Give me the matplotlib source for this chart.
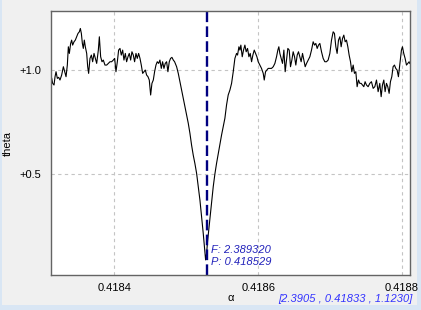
import matplotlib
matplotlib.use("Agg")
import matplotlib.pyplot as plt
from matplotlib.patches import Rectangle

plt.rcParams['font.family'] = ['Liberation Sans', 'DejaVu Sans']

# periodogram trace (period, theta)
period = [
    0.4183130, 0.4183143, 0.4183162, 0.4183176, 0.4183190, 0.4183208, 0.4183227, 0.4183245,
    0.4183268, 0.4183292, 0.4183310, 0.4183329, 0.4183347, 0.4183361, 0.4183375, 0.4183393,
    0.4183407, 0.4183421, 0.4183440, 0.4183458, 0.4183477, 0.4183495, 0.4183514, 0.4183528,
    0.4183542, 0.4183556, 0.4183569, 0.4183583, 0.4183597, 0.4183616, 0.4183630, 0.4183643,
    0.4183662, 0.4183681, 0.4183699, 0.4183718, 0.4183736, 0.4183755, 0.4183778, 0.4183792,
    0.4183810, 0.4183829, 0.4183847, 0.4183870, 0.4183894, 0.4183917, 0.4183940, 0.4183963,
    0.4183986, 0.4184005, 0.4184023, 0.4184042, 0.4184060, 0.4184079, 0.4184097, 0.4184116,
    0.4184134, 0.4184153, 0.4184171, 0.4184190, 0.4184208, 0.4184227, 0.4184245, 0.4184264,
    0.4184282, 0.4184301, 0.4184319, 0.4184338, 0.4184357, 0.4184375, 0.4184394, 0.4184412,
    0.4184431, 0.4184449, 0.4184468, 0.4184486, 0.4184505, 0.4184523, 0.4184542, 0.4184560,
    0.4184579, 0.4184597, 0.4184616, 0.4184634, 0.4184653, 0.4184671, 0.4184690, 0.4184708,
    0.4184727, 0.4184745, 0.4184764, 0.4184782, 0.4184801, 0.4184820, 0.4184838, 0.4184866,
    0.4184889, 0.4184912, 0.4184935, 0.4184958, 0.4184982, 0.4185005, 0.4185028, 0.4185051,
    0.4185074, 0.4185097, 0.4185120, 0.4185144, 0.4185167, 0.4185190, 0.4185213, 0.4185236,
    0.4185255, 0.4185269, 0.4185283, 0.4185296, 0.4185315, 0.4185333, 0.4185352, 0.4185375,
    0.4185398, 0.4185421, 0.4185445, 0.4185468, 0.4185491, 0.4185514, 0.4185537, 0.4185560,
    0.4185583, 0.4185607, 0.4185630, 0.4185653, 0.4185676, 0.4185699, 0.4185713, 0.4185732,
    0.4185746, 0.4185759, 0.4185778, 0.4185796, 0.4185815, 0.4185833, 0.4185852, 0.4185871,
    0.4185889, 0.4185908, 0.4185926, 0.4185945, 0.4185963, 0.4185982, 0.4186000, 0.4186023,
    0.4186046, 0.4186070, 0.4186084, 0.4186102, 0.4186121, 0.4186139, 0.4186162, 0.4186185,
    0.4186209, 0.4186232, 0.4186255, 0.4186273, 0.4186287, 0.4186301, 0.4186320, 0.4186338,
    0.4186357, 0.4186375, 0.4186394, 0.4186412, 0.4186431, 0.4186449, 0.4186468, 0.4186486,
    0.4186505, 0.4186523, 0.4186542, 0.4186560, 0.4186579, 0.4186597, 0.4186616, 0.4186634,
    0.4186653, 0.4186672, 0.4186695, 0.4186718, 0.4186741, 0.4186764, 0.4186783, 0.4186801,
    0.4186820, 0.4186838, 0.4186857, 0.4186880, 0.4186903, 0.4186926, 0.4186949, 0.4186972,
    0.4186996, 0.4187019, 0.4187042, 0.4187060, 0.4187079, 0.4187097, 0.4187116, 0.4187135,
    0.4187153, 0.4187172, 0.4187190, 0.4187209, 0.4187227, 0.4187246, 0.4187264, 0.4187283,
    0.4187301, 0.4187320, 0.4187338, 0.4187357, 0.4187375, 0.4187394, 0.4187412, 0.4187431,
    0.4187449, 0.4187468, 0.4187486, 0.4187505, 0.4187528, 0.4187551, 0.4187574, 0.4187598,
    0.4187621, 0.4187644, 0.4187667, 0.4187690, 0.4187709, 0.4187727, 0.4187746, 0.4187764,
    0.4187783, 0.4187801, 0.4187820, 0.4187838, 0.4187857, 0.4187875, 0.4187894, 0.4187912,
    0.4187931, 0.4187949, 0.4187968, 0.4187991, 0.4188005, 0.4188023, 0.4188042, 0.4188061,
    0.4188079, 0.4188098, 0.4188107,
]
theta = [
    0.960, 0.936, 0.928, 0.968, 0.992, 0.960, 0.965, 0.952,
    0.976, 1.016, 0.992, 0.968, 1.024, 1.112, 1.080, 1.128,
    1.144, 1.120, 1.136, 1.144, 1.160, 1.176, 1.184, 1.200,
    1.176, 1.128, 1.104, 1.144, 1.112, 1.080, 1.016, 0.984,
    1.056, 1.072, 1.040, 1.080, 1.056, 1.032, 1.096, 1.160,
    1.064, 1.040, 1.048, 1.024, 1.024, 1.032, 1.040, 1.040,
    1.048, 1.056, 0.992, 1.040, 1.096, 1.104, 1.072, 1.096,
    1.048, 1.080, 1.040, 1.064, 1.080, 1.048, 1.088, 1.072,
    1.040, 1.080, 1.056, 1.080, 1.056, 1.024, 0.984, 0.992,
    1.000, 0.976, 0.968, 0.952, 0.880, 0.936, 0.952, 0.992,
    1.024, 1.040, 1.032, 1.048, 1.008, 1.040, 1.008, 1.032,
    1.040, 0.992, 1.040, 1.056, 1.061, 1.048, 1.040, 1.016,
    0.984, 0.944, 0.904, 0.864, 0.824, 0.784, 0.744, 0.696,
    0.639, 0.591, 0.551, 0.503, 0.439, 0.375, 0.295, 0.215,
    0.143, 0.087, 0.119, 0.175, 0.239, 0.303, 0.367, 0.439,
    0.500, 0.551, 0.599, 0.647, 0.688, 0.728, 0.768, 0.832,
    0.880, 0.904, 0.936, 0.992, 1.056, 1.080, 1.072, 1.112,
    1.096, 1.120, 1.064, 1.096, 1.120, 1.088, 1.104, 1.064,
    1.080, 1.040, 1.072, 1.096, 1.080, 1.064, 1.040, 1.024,
    1.008, 0.984, 0.952, 0.992, 1.000, 1.008, 1.008, 1.008,
    1.016, 1.032, 1.064, 1.096, 1.112, 1.080, 1.056, 1.032,
    1.096, 0.992, 1.048, 1.104, 1.096, 1.016, 1.048, 1.088,
    1.064, 1.024, 1.072, 1.088, 1.064, 1.040, 1.080, 1.048,
    1.016, 1.032, 1.048, 1.064, 1.096, 1.136, 1.120, 1.128,
    1.104, 1.120, 1.128, 1.088, 1.056, 1.040, 1.040, 1.048,
    1.080, 1.144, 1.184, 1.176, 1.112, 1.080, 1.144, 1.160,
    1.112, 1.152, 1.168, 1.136, 1.144, 1.112, 1.072, 1.040,
    0.992, 1.024, 0.984, 0.992, 0.920, 0.952, 0.936, 0.936,
    0.928, 0.920, 0.944, 0.928, 0.920, 0.936, 0.944, 0.912,
    0.920, 0.952, 0.896, 0.936, 0.872, 0.928, 0.952, 0.896,
    0.936, 0.920, 0.888, 0.944, 0.968, 1.016, 1.024, 1.008,
    1.000, 0.968, 1.024, 1.096, 1.112, 1.080, 1.056, 1.024,
    1.032, 1.040, 1.032,
]

best_period = 0.418529
best_freq = 2.389320
x_ticks = [0.4184, 0.4186, 0.4188]
x_tick_labels = ["0.4184", "0.4186", "0.4188"]
y_ticks = [0.5, 1.0]
y_tick_labels = ["+0.5", "+1.0"]
cursor_text = "[2.3905 , 0.41833 , 1.1230]"

fig = plt.figure(figsize=(4.21, 3.10), dpi=100, facecolor="#F0F0F0")
# light blue window edges, kept behind the axes and texts
fig.patches.append(Rectangle((0, 0), 1, 5 / 310, transform=fig.transFigure,
                             facecolor="#D9E6F4", edgecolor="none", zorder=-5))
fig.patches.append(Rectangle((417 / 421, 0), 4 / 421, 1, transform=fig.transFigure,
                             facecolor="#D9E6F4", edgecolor="none", zorder=-5))
fig.patches.append(Rectangle((0, 0), 1.5 / 421, 1, transform=fig.transFigure,
                             facecolor="#D9E6F4", edgecolor="none", zorder=-5))

ax = fig.add_axes([51 / 421, 35 / 310, 359 / 421, 264 / 310])
ax.set_facecolor("white")

ax.plot(period, theta, color="black", lw=0.8)
ax.axvline(best_period, color="#000080", lw=1.7, dashes=(4.5, 1.8))

ax.set_xlim(0.418312, 0.418811)
ax.set_ylim(0.0144, 1.284)
ax.set_xticks(x_ticks)
ax.set_xticklabels(x_tick_labels)
ax.set_yticks(y_ticks)
ax.set_yticklabels(y_tick_labels)
ax.tick_params(axis="both", length=0, labelsize=8, colors="black")
ax.tick_params(axis="x", pad=6)
ax.tick_params(axis="y", pad=7)
ax.grid(True, color="#C4C4C4", linestyle=(0, (3, 3)), lw=0.8)

for s in ax.spines.values():
    s.set_color("#646464")
    s.set_linewidth(1.0)

ax.set_ylabel("theta", fontsize=8, labelpad=5)
ax.set_xlabel("α", fontsize=8, labelpad=0)

ax.annotate(f"F: {best_freq:.6f}", xy=(best_period, 0.095),
            xycoords=("data", "axes fraction"), xytext=(3, 0), textcoords="offset points",
            fontsize=8, style="italic", color="#2222BB", va="center", ha="left")
ax.annotate(f"P: {best_period:.6f}", xy=(best_period, 0.049),
            xycoords=("data", "axes fraction"), xytext=(3, 0), textcoords="offset points",
            fontsize=8, style="italic", color="#2222BB", va="center", ha="left")

fig.text(413 / 421, 1 - 299 / 310, cursor_text, fontsize=8, style="italic",
         color="#3333FF", ha="right", va="center")

fig.savefig("out.png", dpi=100, facecolor=fig.get_facecolor())
